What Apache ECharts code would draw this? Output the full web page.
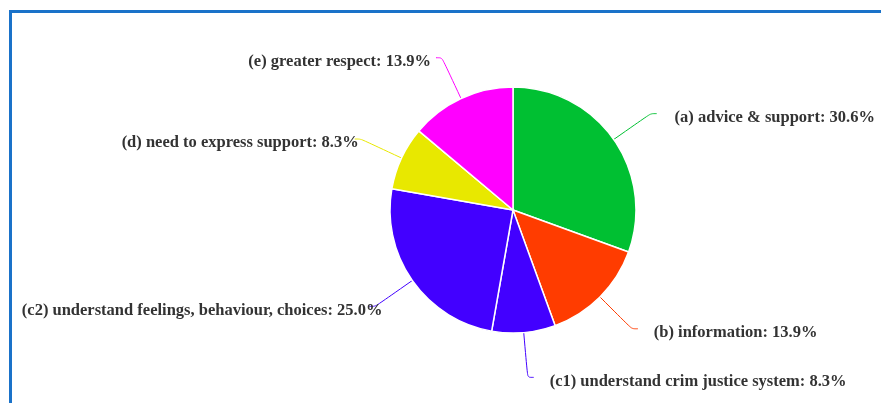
<!DOCTYPE html>
<html>
<head>
<meta charset="utf-8">
<script src="https://cdn.jsdelivr.net/npm/echarts@6/dist/echarts.min.js"></script>
<style>
html,body{margin:0;padding:0;background:#fff;overflow:hidden;}
#frame{position:absolute;left:9px;top:10px;width:1000px;height:600px;border:3px solid #1a72c9;box-sizing:border-box;}
#chart{position:absolute;left:0;top:0;width:881px;height:403px;}
</style>
</head>
<body>
<div id="frame"></div>
<div id="chart"></div>
<script>
const categories = [
  '(a) advice & support',
  '(b) information',
  '(c1) understand crim justice system',
  '(c2) understand feelings, behaviour, choices',
  '(d) need to express support',
  '(e) greater respect'
];
const counts = [11, 5, 3, 9, 3, 5];
const colors = ['#00c032', '#ff3c00', '#4200ff', '#4200ff', '#e8e800', '#ff00ff'];
const labelGaps = [18, 16, 16, -13, -4, 5];

const chart = echarts.init(document.getElementById('chart'));
const total = counts.reduce((a, b) => a + b, 0);
chart.setOption({
  animation: false,
  series: [{
    type: 'pie',
    center: [513, 210],
    radius: 123,
    startAngle: 90,
    clockwise: true,
    avoidLabelOverlap: false,
    itemStyle: { borderColor: '#fff', borderWidth: 1.5 },
    label: {
      show: true,
      formatter: p => '{t|' + p.name + ': ' + (p.value / total * 100).toFixed(1) + '%}',
      rich: {
        t: {
          fontFamily: 'Liberation Serif',
          fontWeight: 'bold',
          fontSize: 16.5,
          color: '#333',
          padding: [8, 0, 0, 0]
        }
      }
    },
    labelLine: { show: true, length: 45, length2: 6, smooth: true, lineStyle: { width: 1 } },
    data: categories.map((c, i) => ({
      name: c,
      value: counts[i],
      itemStyle: { color: colors[i] },
      label: { distanceToLabelLine: labelGaps[i] }
    }))
  }]
});
</script>
</body>
</html>
